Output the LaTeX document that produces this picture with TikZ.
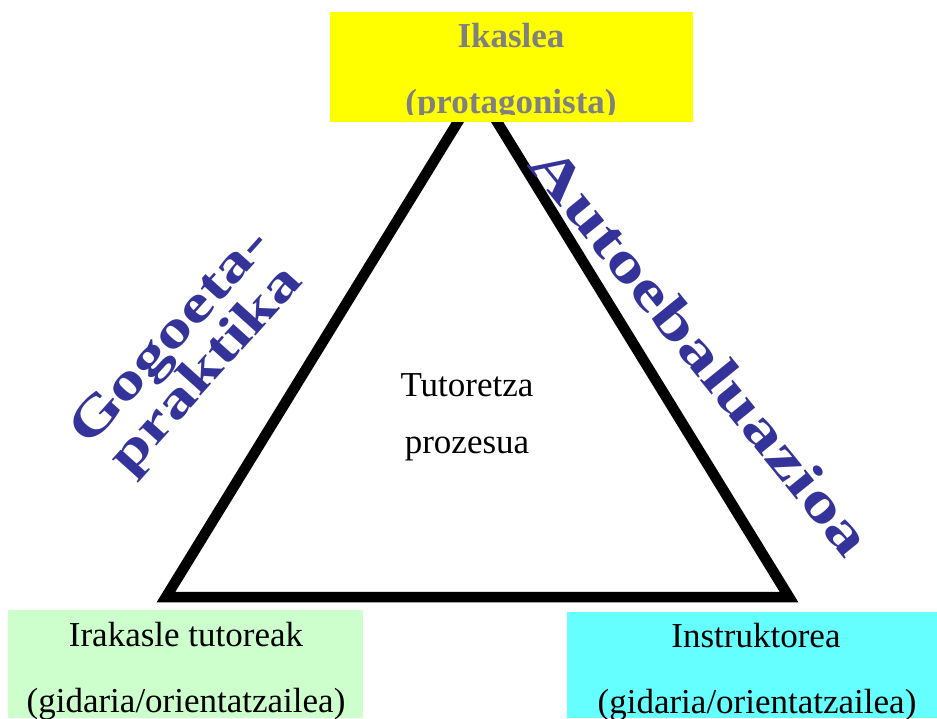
\documentclass[tikz,border=0pt]{standalone}
\usepackage{fontspec}
\setmainfont{Liberation Serif}
\usepackage{graphicx}
\definecolor{ikasyellow}{HTML}{FFFF00}
\definecolor{irakgreen}{HTML}{CCFFCC}
\definecolor{instcyan}{HTML}{66FFFF}
\definecolor{sideblue}{HTML}{333399}
\definecolor{ikasgray}{HTML}{808080}
\tikzset{
  roletext/.style={anchor=base, inner sep=0pt, font=\fontsize{35}{42}\selectfont},
  headtext/.style={anchor=base, inner sep=0pt, text=ikasgray, font=\bfseries\fontsize{35}{42}\selectfont},
  sidetext/.style={text=sideblue, inner sep=0pt, align=center, font=\bfseries\fontsize{52}{45}\selectfont},
}
\begin{document}
\begin{tikzpicture}[x=1pt,y=-1pt]
\useasboundingbox (0,0) rectangle (937,718);
% triangle
\coordinate (apex) at (477.5,90);
\coordinate (leftfoot) at (166,597);
\coordinate (rightfoot) at (789,597);
\draw[line width=10.5pt, line join=miter] (apex) -- (leftfoot) -- (rightfoot) -- cycle;
% boxes
\fill[ikasyellow] (330,12) rectangle (693,122);
\fill[irakgreen] (8,610) rectangle (363,718);
\fill[instcyan] (567,612) rectangle (937,718);
% top box text
\node[headtext] (ikaslea) at (511,47) {Ikaslea};
\begin{scope}
\clip (330,12) rectangle (693,114);
\node[headtext] (protag) at (511,113) {(protagonista)};
\end{scope}
% bottom box texts
\node[roletext] (irakasle) at (186,646) {Irakasle tutoreak};
\node[roletext] (gidari1) at (186,712) {(gidaria/orientatzailea)};
\node[roletext] (instruk) at (756,647) {Instruktorea};
\node[roletext] (gidari2) at (757,713) {(gidaria/orientatzailea)};
% centre
\node[roletext] (tutoretza) at (467,396) {Tutoretza};
\node[roletext] (prozesua) at (467,453) {prozesua};
% side labels
\node[sidetext, rotate=-51, font=\bfseries\fontsize{56}{45}\selectfont] (autoeb) at (701,351) {\scalebox{1.36}[1]{Autoebaluazioa}};
\node[sidetext, rotate=48] (gogoeta) at (190,355) {\scalebox{1.35}[1]{Gogoeta-}\\\scalebox{1.35}[1]{praktika}};
\end{tikzpicture}
\end{document}
